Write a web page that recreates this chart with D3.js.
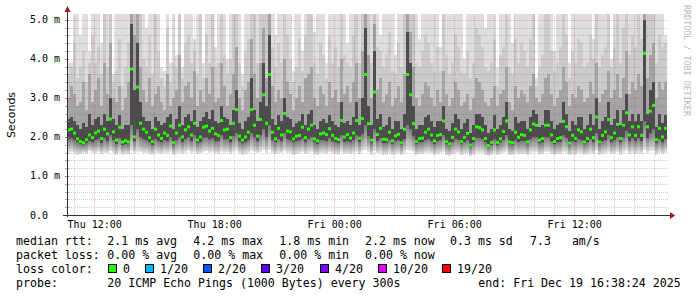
<!DOCTYPE html>
<html>
<head>
<meta charset="utf-8">
<script src="https://cdn.jsdelivr.net/npm/d3@7"></script>
<style>
  body { margin: 0; background: #fff; }
  svg { display: block; }
  text { font-family: "DejaVu Sans Mono", monospace; fill: #000; }
</style>
</head>
<body>
<div id="chart"></div>
<script>
// smokeping style latency graph, 30 hours, 200 columns
var endTime = Date.UTC(2025, 11, 19, 16, 38, 24);
var spanHours = 30;

// per column ping distribution in ms
var lo = [1.60,1.62,1.58,1.55,1.56,1.60,1.57,1.63,1.60,1.58,1.62,1.56,1.60,1.58,1.63,1.59,1.54,1.60,1.55,1.57,
  1.56,1.64,1.60,1.62,1.61,1.58,1.60,1.57,1.55,1.60,1.58,1.57,1.60,1.59,1.62,1.55,1.58,1.60,1.57,1.60,
  1.63,1.60,1.62,1.56,1.58,1.61,1.63,1.60,1.62,1.58,1.57,1.62,1.60,1.61,1.57,1.62,1.65,1.58,1.55,1.57,
  1.60,1.64,1.61,1.58,1.62,1.66,1.60,1.66,1.59,1.56,1.60,1.58,1.63,1.60,1.59,1.55,1.57,1.58,1.61,1.56,
  1.60,1.62,1.56,1.54,1.58,1.59,1.57,1.61,1.58,1.56,1.55,1.62,1.57,1.58,1.56,1.59,1.62,1.56,1.63,1.66,
  1.62,1.55,1.64,1.58,1.60,1.55,1.55,1.59,1.54,1.57,1.58,1.53,1.60,1.66,1.64,1.62,1.54,1.56,1.56,1.59,
  1.60,1.58,1.55,1.57,1.58,1.62,1.54,1.52,1.56,1.60,1.59,1.54,1.56,1.58,1.51,1.55,1.60,1.60,1.59,1.55,
  1.51,1.54,1.60,1.54,1.56,1.59,1.62,1.54,1.53,1.59,1.56,1.57,1.57,1.54,1.59,1.61,1.61,1.55,1.56,1.61,
  1.61,1.57,1.54,1.56,1.56,1.62,1.60,1.53,1.57,1.55,1.59,1.58,1.54,1.56,1.60,1.56,1.63,1.54,1.57,1.58,
  1.62,1.56,1.58,1.61,1.55,1.60,1.63,1.57,1.60,1.57,1.60,1.57,1.66,1.60,1.63,1.64,1.55,1.59,1.56,1.59];

var q1 = [1.95,1.97,1.92,1.86,1.82,1.80,1.84,1.90,1.86,1.92,1.95,1.85,1.97,1.90,2.05,1.93,1.83,1.98,1.80,1.83,
  1.81,2.30,1.90,2.20,2.00,1.96,1.92,1.87,1.80,1.95,1.90,1.86,1.92,1.90,2.00,1.80,1.92,2.00,1.88,1.96,
  2.00,1.90,2.05,1.84,1.88,1.98,2.00,1.94,1.97,1.90,1.90,2.05,1.95,1.96,1.87,2.02,2.10,1.90,1.84,1.88,
  1.93,2.10,2.00,1.90,2.05,2.20,2.00,2.30,1.93,1.86,1.96,1.90,2.10,1.94,1.93,1.86,1.90,1.91,1.98,1.88,
  1.96,2.00,1.86,1.83,1.92,1.93,1.90,1.97,1.90,1.86,1.85,2.05,1.88,1.90,1.87,1.92,2.05,1.87,2.08,2.30,
  2.02,1.84,2.20,1.90,1.97,1.85,1.85,1.93,1.83,1.90,1.92,1.80,1.96,2.30,2.20,2.02,1.82,1.87,1.87,1.93,
  1.96,1.90,1.83,1.90,1.91,2.05,1.82,1.78,1.88,1.96,1.93,1.82,1.88,1.92,1.75,1.86,1.98,1.97,1.95,1.86,
  1.74,1.80,1.95,1.80,1.86,1.93,2.05,1.81,1.80,1.93,1.88,1.90,1.90,1.81,1.95,2.00,2.00,1.84,1.86,2.00,
  2.00,1.90,1.82,1.86,1.88,2.05,1.98,1.79,1.90,1.86,1.95,1.93,1.81,1.86,1.96,1.88,2.10,1.81,1.90,1.93,
  2.05,1.88,1.92,2.00,1.86,2.00,2.15,1.90,1.98,1.90,1.98,1.90,2.40,1.98,2.10,2.20,1.85,1.96,1.88,1.96];

var median = [2.18,2.20,2.10,1.95,1.88,1.85,1.93,2.05,1.98,2.10,2.15,1.96,2.20,2.08,2.46,2.13,1.92,2.25,1.87,1.90,
  1.87,3.74,2.00,3.28,2.35,2.20,2.12,1.98,1.88,2.20,2.05,1.96,2.10,2.04,2.28,1.85,2.10,2.30,2.00,2.18,
  2.26,2.05,2.35,1.92,2.00,2.25,2.28,2.15,2.22,2.08,2.04,2.42,2.18,2.20,1.98,2.35,2.70,2.02,1.92,2.00,
  2.12,2.70,2.30,2.02,2.45,3.08,2.35,3.60,2.12,1.95,2.22,2.05,2.60,2.15,2.13,1.95,2.02,2.04,2.25,1.98,
  2.20,2.30,1.95,1.90,2.08,2.10,2.06,2.21,2.04,1.96,1.93,2.42,2.00,2.06,1.97,2.10,2.42,1.97,2.47,3.60,
  2.34,1.92,3.15,2.06,2.22,1.94,1.93,2.12,1.90,2.03,2.07,1.85,2.20,3.60,3.08,2.34,1.88,1.96,1.97,2.12,
  2.20,2.05,1.90,2.04,2.06,2.41,1.88,1.82,1.99,2.20,2.13,1.88,1.99,2.09,1.79,1.96,2.26,2.24,2.18,1.96,
  1.78,1.86,2.18,1.86,1.95,2.14,2.41,1.87,1.85,2.12,1.99,2.06,2.04,1.87,2.18,2.33,2.30,1.92,1.96,2.30,
  2.30,2.05,1.88,1.96,1.98,2.40,2.26,1.84,2.04,1.96,2.18,2.13,1.87,1.96,2.20,1.98,2.51,1.87,2.04,2.13,
  2.45,1.98,2.10,2.32,1.96,2.30,2.62,2.05,2.26,2.04,2.26,2.04,4.14,2.26,2.66,2.81,1.93,2.22,2.00,2.22];

var q3 = [2.45,2.50,2.40,2.30,2.20,2.35,2.25,2.60,2.30,2.45,2.50,2.30,2.60,2.40,3.00,2.45,2.30,2.55,2.20,2.30,
  2.30,4.90,3.20,4.40,2.90,2.50,2.40,2.40,2.20,2.50,2.40,2.30,2.35,2.50,2.60,2.20,2.45,2.80,2.30,2.50,
  2.60,2.40,2.70,2.25,2.40,2.50,2.65,2.45,2.70,2.40,2.35,2.80,2.50,2.45,2.30,2.70,3.20,2.35,2.20,2.40,
  2.50,3.50,2.70,2.40,2.90,3.90,2.80,4.60,2.45,2.30,2.55,2.40,3.00,2.50,2.45,2.25,2.35,2.40,2.60,2.30,
  2.60,2.70,2.30,2.20,2.40,2.45,2.35,2.55,2.40,2.30,2.25,2.90,2.35,2.40,2.30,2.50,2.90,2.30,3.00,4.80,
  2.80,2.30,4.20,2.45,2.60,2.25,2.30,2.50,2.20,2.40,2.40,2.20,2.60,4.70,3.90,2.80,2.20,2.30,2.30,2.50,
  2.55,2.40,2.25,2.40,2.40,2.80,2.20,2.15,2.35,2.60,2.45,2.20,2.35,2.45,2.10,2.30,2.60,2.60,2.50,2.30,
  2.10,2.20,2.55,2.20,2.30,2.50,2.90,2.20,2.15,2.50,2.35,2.40,2.40,2.20,2.50,2.70,2.60,2.25,2.30,2.70,
  2.70,2.40,2.20,2.30,2.35,2.90,2.60,2.15,2.40,2.30,2.50,2.50,2.20,2.30,2.60,2.30,3.00,2.20,2.40,2.50,
  2.90,2.30,2.45,2.70,2.30,2.70,3.10,2.40,2.60,2.40,2.60,2.40,5.00,2.60,3.20,3.40,2.25,2.60,2.35,2.55];

var q9 = [3.0,3.3,3.1,2.8,2.9,3.4,2.7,3.6,2.9,3.2,3.5,2.8,3.9,3.1,4.4,3.0,2.9,3.3,2.7,3.0,
  3.4,5.3,4.6,5.3,3.8,3.2,2.9,3.5,2.8,3.1,3.3,2.9,2.7,3.6,2.8,3.0,3.2,4.1,2.9,3.3,
  3.4,3.0,3.7,2.8,3.2,2.9,3.5,3.1,3.8,2.9,3.0,3.9,3.3,2.8,3.1,3.6,4.3,3.0,2.7,3.2,
  3.4,4.5,3.6,3.0,3.9,4.8,3.5,5.3,3.3,2.9,3.2,3.0,4.0,3.4,3.1,2.7,3.0,3.3,2.9,3.5,
  3.6,3.8,3.0,2.8,3.3,3.1,2.8,3.4,3.0,3.2,2.9,4.0,3.1,3.3,2.9,3.4,3.9,3.0,4.2,5.3,
  4.1,3.0,4.9,3.2,3.5,2.9,3.1,3.4,2.8,3.0,3.3,2.9,3.6,5.3,4.7,3.8,3.0,2.8,3.1,3.4,
  3.3,3.0,2.8,3.2,2.9,3.7,3.1,2.8,3.0,3.4,3.2,2.8,2.9,3.1,2.7,3.0,3.5,3.4,3.2,2.9,
  2.8,3.0,3.3,2.8,3.1,3.2,3.8,2.9,2.7,3.3,3.0,3.2,3.1,2.9,3.3,3.6,3.0,2.9,3.1,3.5,
  3.6,3.1,2.8,3.0,3.2,3.8,3.4,2.8,3.1,3.0,3.3,3.2,2.9,3.0,3.4,3.1,3.9,2.9,3.1,3.2,
  3.7,3.0,3.2,3.6,3.0,3.5,4.2,3.1,3.4,3.2,3.6,3.3,5.3,3.5,4.1,4.4,3.0,3.4,3.2,3.4];

var q95 = [3.6,3.8,4.4,3.5,3.8,4.2,3.4,3.9,4.6,3.9,4.3,3.6,5.3,3.8,5.3,3.4,3.7,4.5,3.3,3.8,
  4.4,5.3,5.3,5.3,5.3,4.0,3.8,4.6,3.6,5.3,4.2,3.5,3.3,4.8,3.4,3.9,3.8,5.3,3.5,4.4,
  4.6,3.9,4.2,3.6,5.3,3.5,4.6,3.9,5.3,3.8,3.9,5.3,4.1,3.6,4.0,5.3,5.3,3.9,3.3,4.2,
  4.5,5.3,5.3,3.9,5.3,5.3,5.3,5.3,4.3,3.8,4.4,3.9,5.3,4.6,4.0,3.4,3.8,4.5,3.7,4.6,
  5.3,5.3,3.9,3.6,4.4,4.1,3.5,4.6,3.9,4.3,3.8,5.3,4.1,3.9,3.8,4.6,5.3,3.9,5.3,5.3,
  5.3,3.9,5.3,4.3,4.2,3.8,4.1,4.7,3.7,3.6,4.4,3.8,5.3,5.3,5.3,5.3,3.9,3.8,4.2,4.6,
  4.4,3.9,3.7,4.3,3.7,5.3,4.1,3.6,3.9,4.6,4.3,3.7,3.6,4.2,3.5,3.9,4.8,4.6,4.3,3.8,
  3.7,3.9,4.5,3.3,4.1,4.3,5.3,3.8,3.6,4.5,3.9,4.4,4.2,3.8,4.5,5.3,3.3,3.8,4.1,5.3,
  5.3,4.2,3.7,3.9,4.3,5.3,4.6,3.5,4.2,3.9,4.5,4.4,3.8,3.9,4.6,4.0,5.3,3.8,4.1,4.3,
  5.3,3.8,4.3,5.3,3.9,4.8,5.3,4.1,4.6,4.3,5.3,4.5,5.3,5.3,5.3,5.3,3.9,4.6,4.3,4.4];

var hi = [3.9,3.9,5.3,5.3,4.6,5.3,5.3,4.2,5.3,5.3,5.3,4.4,5.3,5.3,5.3,3.6,5.3,5.3,5.3,5.3,
  5.3,5.3,5.3,5.3,5.3,5.3,4.8,5.3,5.3,5.3,5.3,3.8,3.7,5.3,3.9,5.3,4.1,5.3,3.8,5.3,
  5.3,5.3,4.5,5.3,5.3,3.9,5.3,5.3,5.3,4.3,5.3,5.3,5.3,4.0,5.3,5.3,5.3,5.3,3.6,5.3,
  5.3,5.3,5.3,5.3,5.3,5.3,5.3,5.3,5.3,4.6,5.3,5.3,5.3,5.3,5.3,3.7,5.3,5.3,4.2,5.3,
  5.3,5.3,4.7,5.3,5.3,5.3,3.9,5.3,5.3,5.3,5.3,5.3,5.3,4.4,5.3,5.3,5.3,5.3,5.3,5.3,
  5.3,5.3,5.3,5.3,4.6,5.3,5.3,5.3,5.3,4.1,5.3,5.3,5.3,5.3,5.3,5.3,5.3,4.5,5.3,5.3,
  5.3,5.3,5.3,5.3,4.3,5.3,5.3,5.3,5.3,5.3,5.3,5.3,4.0,5.3,5.3,5.3,5.3,5.3,5.3,4.8,
  5.3,5.3,5.3,3.8,5.3,5.3,5.3,5.3,4.4,5.3,5.3,5.3,5.3,5.3,5.3,5.3,3.5,5.3,5.3,5.3,
  5.3,5.3,4.2,5.3,5.3,5.3,5.3,3.9,5.3,5.3,5.3,5.3,5.3,5.3,5.3,4.5,5.3,5.3,5.3,5.3,
  5.3,4.0,5.3,5.3,5.3,5.3,5.3,5.3,5.3,5.3,5.3,5.3,5.3,5.3,5.3,5.3,5.3,5.3,5.3,4.6];

var yTicks = ["0.0", "1.0 m", "2.0 m", "3.0 m", "4.0 m", "5.0 m"];
var lossLabels = ["0", "1/20", "2/20", "3/20", "4/20", "10/20", "19/20"];
var lossColors = ["#26ff00", "#00b8ff", "#0059ff", "#5e00ff", "#7e00ff", "#dd00ff", "#ff0000"];

var W = 697, H = 297;
var plotLeft = 67, plotRight = 667, plotTop = 14, plotBottom = 215;

var svg = d3.select('#chart').append('svg')
    .attr('width', W)
    .attr('height', H);
svg.append('rect').attr('width', W).attr('height', H).attr('fill', '#fff');

// fade for the lower edge of the smoke
var defs = svg.append('defs');
var fade = defs.append('linearGradient').attr('id', 'lowfade')
    .attr('x1', 0).attr('y1', 0).attr('x2', 0).attr('y2', 1);
fade.append('stop').attr('offset', 0).attr('stop-color', '#777');
fade.append('stop').attr('offset', 0.55).attr('stop-color', '#b0b0b0');
fade.append('stop').attr('offset', 1).attr('stop-color', '#e6e6e6');

var startTime = endTime - spanHours * 3600e3;
var x = d3.scaleUtc().domain([startTime, endTime]).range([plotLeft, plotRight]);
var y = d3.scaleLinear().domain([0, 5.15]).range([plotBottom, plotTop]);

var n = median.length;
var step = (endTime - startTime) / n;
var cols = d3.range(n).map(function (i) {
    return { t0: startTime + i * step, t1: startTime + (i + 1) * step,
        lo: lo[i], q1: q1[i], med: median[i], q3: q3[i], q9: q9[i], q95: q95[i], hi: hi[i] };
});

defs.append('clipPath').attr('id', 'plot')
    .append('rect').attr('x', plotLeft).attr('y', plotTop)
    .attr('width', plotRight - plotLeft).attr('height', plotBottom - plotTop);

var smoke = svg.append('g').attr('clip-path', 'url(#plot)');
var bands = [
    { a: 'lo', b: 'hi', fill: '#dedede' },
    { a: 'lo', b: 'q1', fill: 'url(#lowfade)' },
    { a: 'q1', b: 'q95', fill: '#cbcbcb' },
    { a: 'q1', b: 'q9', fill: '#a4a4a4' },
    { a: 'q1', b: 'q3', fill: '#4c4c4c' }
];
bands.forEach(function (band) {
    smoke.append('g').selectAll('rect')
        .data(cols)
        .enter().append('rect')
        .attr('x', function (d) { return x(d.t0); })
        .attr('width', function (d) { return x(d.t1) - x(d.t0); })
        .attr('y', function (d) { return y(d[band.b]); })
        .attr('height', function (d) { return y(d[band.a]) - y(d[band.b]); })
        .attr('fill', band.fill)
        .attr('shape-rendering', 'crispEdges');
});

// grid
var minorStroke = 'rgba(110,110,110,0.32)', majorStroke = 'rgba(190,50,50,0.3)';
var grid = svg.append('g').attr('shape-rendering', 'crispEdges');
d3.utcHour.range(startTime, endTime).forEach(function (t) {
    var major = t.getUTCHours() % 3 === 0;
    var xx = Math.round(x(t)) + 0.5;
    grid.append('line')
        .attr('x1', xx).attr('x2', xx)
        .attr('y1', plotTop).attr('y2', plotBottom)
        .attr('stroke', major ? majorStroke : minorStroke)
        .attr('stroke-dasharray', '1,1');
});
d3.range(1, 26).forEach(function (k) {
    var v = k * 0.2;
    var major = k % 5 === 0;
    var yy = Math.round(y(v)) + 0.5;
    grid.append('line')
        .attr('x1', plotLeft).attr('x2', plotRight + 1)
        .attr('y1', yy).attr('y2', yy)
        .attr('stroke', major ? majorStroke : minorStroke)
        .attr('stroke-dasharray', '1,1');
    grid.append('line')
        .attr('x1', plotLeft - 2).attr('x2', plotLeft + 2)
        .attr('y1', yy).attr('y2', yy)
        .attr('stroke', major ? '#c07070' : '#aaa');
});

// median dots coloured by loss (no loss here)
svg.append('g').selectAll('rect')
    .data(cols)
    .enter().append('rect')
    .attr('x', function (d) { return x(d.t0); })
    .attr('width', function (d) { return x(d.t1) - x(d.t0); })
    .attr('y', function (d) { return y(d.med) - 1.5; })
    .attr('height', 3)
    .attr('fill', lossColors[0]);

// axes
svg.append('line').attr('x1', plotLeft + 0.5).attr('x2', plotLeft + 0.5)
    .attr('y1', plotBottom + 2).attr('y2', 10)
    .attr('stroke', '#333');
svg.append('line').attr('x1', plotLeft - 4).attr('x2', plotRight + 3)
    .attr('y1', plotBottom + 0.5).attr('y2', plotBottom + 0.5)
    .attr('stroke', '#333');
svg.append('path').attr('d', 'M64.5,12 L70.5,12 L67.5,6 Z').attr('fill', '#9e1b1b');
svg.append('path').attr('d', 'M670,212 L670,219 L675,215.5 Z').attr('fill', '#9e1b1b');

// y labels
svg.append('g').selectAll('text')
    .data(yTicks)
    .enter().append('text')
    .attr('x', 30)
    .attr('y', function (d, i) { return y(i) + 3.5; })
    .style('font-size', '10px')
    .style('white-space', 'pre')
    .text(function (d) { return d; });

// x labels
var fmt = d3.utcFormat('%a %H:%M');
svg.append('g').selectAll('text')
    .data(d3.utcHour.every(6).range(startTime, endTime))
    .enter().append('text')
    .attr('x', function (d) { return x(d) + 0.5; })
    .attr('y', 228)
    .attr('text-anchor', 'middle')
    .style('font-size', '10px')
    .text(function (d) { return fmt(d); });

svg.append('text')
    .attr('transform', 'translate(15,115) rotate(-90)')
    .attr('text-anchor', 'middle')
    .style('font-family', '"DejaVu Sans", sans-serif')
    .style('font-size', '11px')
    .text('Seconds');

svg.append('text')
    .attr('transform', 'translate(684,5) rotate(90)')
    .style('font-size', '8.4px')
    .style('fill', '#b8b8b8')
    .text('RRDTOOL / TOBI OETIKER');

// legend
var legendRows = [
    [[16, 'median rtt:'], [107.3, '2.1 ms avg'], [193.3, '4.2 ms max'], [279.3, '1.8 ms min'],
        [365, '2.2 ms now'], [450, '0.3 ms sd'], [530, '7.3   am/s']],
    [[16, 'packet loss:'], [107.3, '0.00 % avg'], [193.3, '0.00 % max'], [279.3, '0.00 % min'],
        [365, '0.00 % now']],
    [[16, 'loss color:']],
    [[16, 'probe:'], [107.3, '20 ICMP Echo Pings (1000 Bytes) every 300s'], [478.3, 'end: Fri Dec 19 16:38:24 2025']]
];
var legend = svg.append('g').style('font-size', '11.6px');
legendRows.forEach(function (row, r) {
    row.forEach(function (cell) {
        legend.append('text')
            .attr('x', cell[0]).attr('y', 245 + r * 14)
            .style('white-space', 'pre')
            .text(cell[1]);
    });
});
var boxX = [108.5, 145.5, 203.5, 261.5, 320.5, 378.5, 442.5];
lossLabels.forEach(function (lab, i) {
    legend.append('rect')
        .attr('x', boxX[i]).attr('y', 264.5)
        .attr('width', 8).attr('height', 8)
        .attr('fill', lossColors[i])
        .attr('stroke', '#000');
    legend.append('text')
        .attr('x', boxX[i] + 14.5).attr('y', 273)
        .text(lab);
});
</script>
</body>
</html>
